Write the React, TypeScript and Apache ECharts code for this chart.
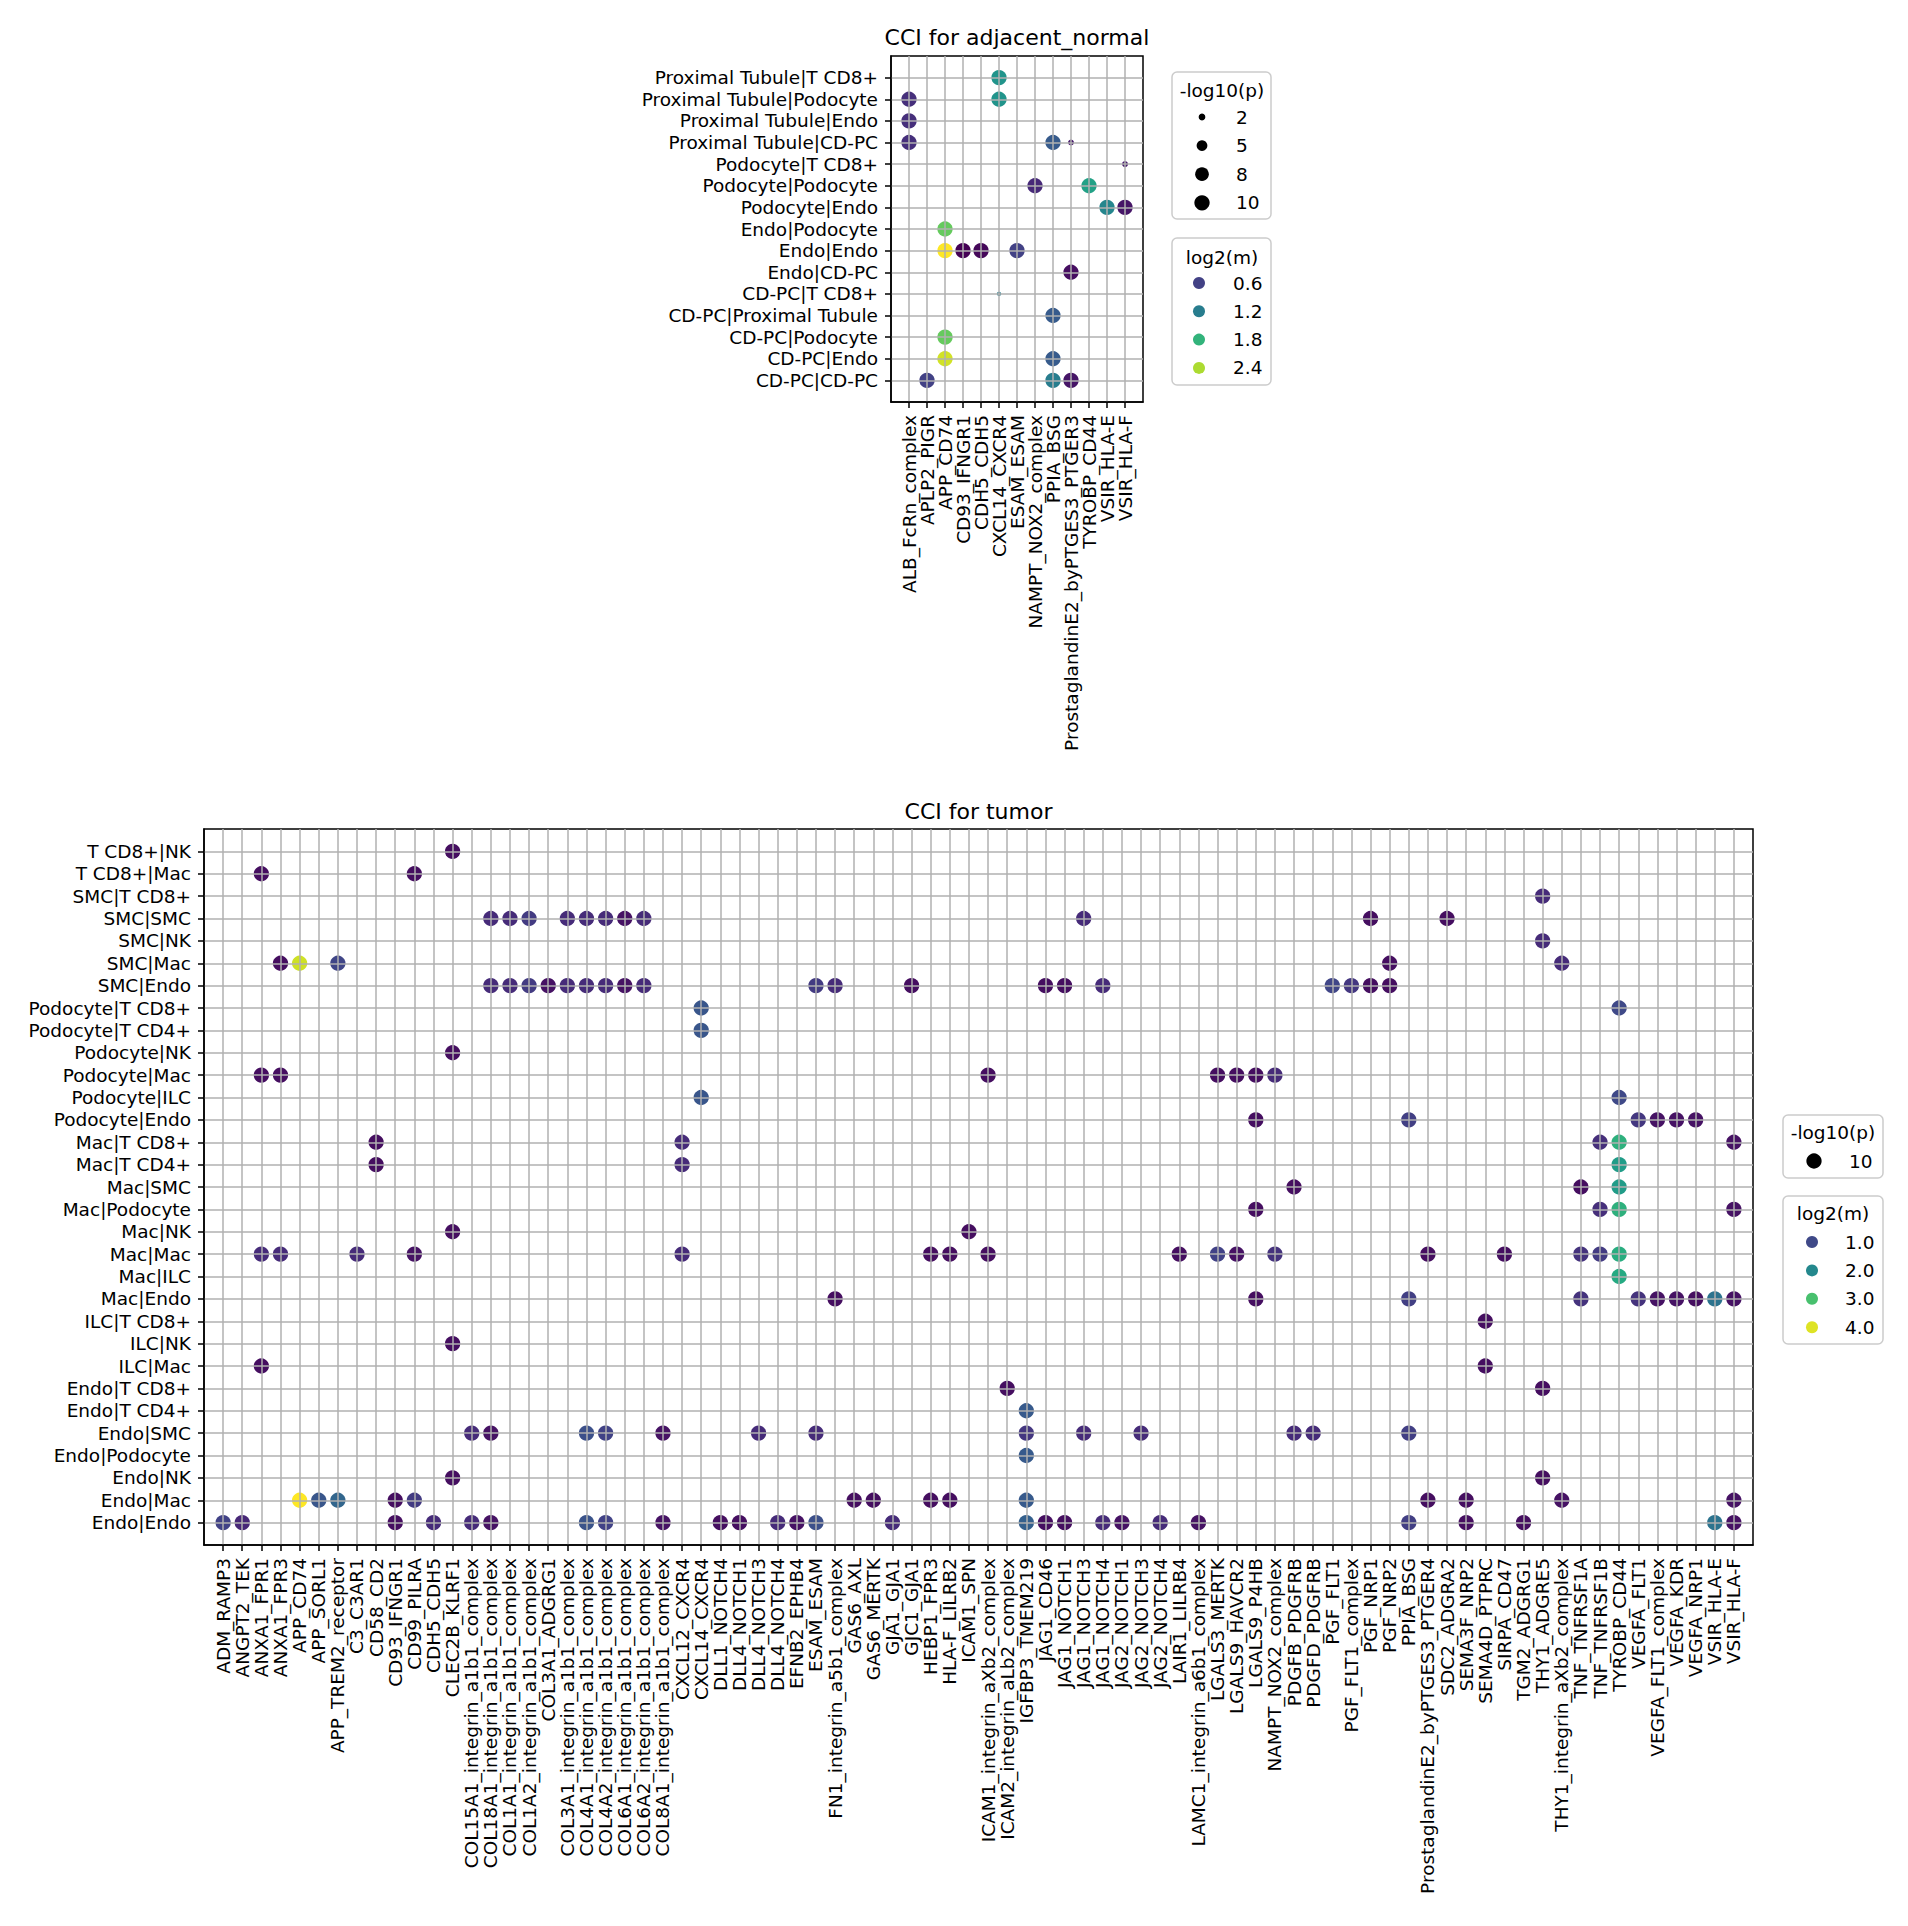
import React, { useEffect, useRef } from "react";
import * as echarts from "echarts";

const FONT = "DejaVu Sans";

// ---------- adjacent_normal ----------
const normalRows = [
  "Proximal Tubule|T CD8+",
  "Proximal Tubule|Podocyte",
  "Proximal Tubule|Endo",
  "Proximal Tubule|CD-PC",
  "Podocyte|T CD8+",
  "Podocyte|Podocyte",
  "Podocyte|Endo",
  "Endo|Podocyte",
  "Endo|Endo",
  "Endo|CD-PC",
  "CD-PC|T CD8+",
  "CD-PC|Proximal Tubule",
  "CD-PC|Podocyte",
  "CD-PC|Endo",
  "CD-PC|CD-PC",
];
const normalCols = [
  "ALB_FcRn_complex",
  "APLP2_PIGR",
  "APP_CD74",
  "CD93_IFNGR1",
  "CDH5_CDH5",
  "CXCL14_CXCR4",
  "ESAM_ESAM",
  "NAMPT_NOX2_complex",
  "PPIA_BSG",
  "ProstaglandinE2_byPTGES3_PTGER3",
  "TYROBP_CD44",
  "VSIR_HLA-E",
  "VSIR_HLA-F",
];
// [column index, row index, log2(m), -log10(p)]
const normalPoints: [number, number, number, number][] = [
  [5, 0, 1.45, 10],
  [0, 1, 0.45, 10], [5, 1, 1.45, 10],
  [0, 2, 0.45, 10],
  [0, 3, 0.45, 10], [8, 3, 0.85, 10], [9, 3, 0.3, 1.6],
  [12, 4, 0.3, 1.6],
  [7, 5, 0.4, 10], [10, 5, 1.6, 10],
  [11, 6, 1.3, 10], [12, 6, 0.25, 10],
  [2, 7, 2.1, 10],
  [2, 8, 2.73, 10], [3, 8, 0.1, 10], [4, 8, 0.15, 10], [6, 8, 0.6, 10],
  [9, 9, 0.2, 10],
  [5, 10, 1.2, 0.9],
  [8, 11, 0.85, 10],
  [2, 12, 2.1, 10],
  [2, 13, 2.55, 10], [8, 13, 0.85, 10],
  [1, 14, 0.6, 10], [8, 14, 1.2, 10], [9, 14, 0.25, 10],
];
const normalSizeLegend = [2, 5, 8, 10];
const normalColorLegend = [0.6, 1.2, 1.8, 2.4];
const normalColorRange = [0.1, 2.73];

// ---------- tumor ----------
const tumorRows = [
  "T CD8+|NK",
  "T CD8+|Mac",
  "SMC|T CD8+",
  "SMC|SMC",
  "SMC|NK",
  "SMC|Mac",
  "SMC|Endo",
  "Podocyte|T CD8+",
  "Podocyte|T CD4+",
  "Podocyte|NK",
  "Podocyte|Mac",
  "Podocyte|ILC",
  "Podocyte|Endo",
  "Mac|T CD8+",
  "Mac|T CD4+",
  "Mac|SMC",
  "Mac|Podocyte",
  "Mac|NK",
  "Mac|Mac",
  "Mac|ILC",
  "Mac|Endo",
  "ILC|T CD8+",
  "ILC|NK",
  "ILC|Mac",
  "Endo|T CD8+",
  "Endo|T CD4+",
  "Endo|SMC",
  "Endo|Podocyte",
  "Endo|NK",
  "Endo|Mac",
  "Endo|Endo",
];
const tumorCols = [
  "ADM_RAMP3",
  "ANGPT2_TEK",
  "ANXA1_FPR1",
  "ANXA1_FPR3",
  "APP_CD74",
  "APP_SORL1",
  "APP_TREM2_receptor",
  "C3_C3AR1",
  "CD58_CD2",
  "CD93_IFNGR1",
  "CD99_PILRA",
  "CDH5_CDH5",
  "CLEC2B_KLRF1",
  "COL15A1_integrin_a1b1_complex",
  "COL18A1_integrin_a1b1_complex",
  "COL1A1_integrin_a1b1_complex",
  "COL1A2_integrin_a1b1_complex",
  "COL3A1_ADGRG1",
  "COL3A1_integrin_a1b1_complex",
  "COL4A1_integrin_a1b1_complex",
  "COL4A2_integrin_a1b1_complex",
  "COL6A1_integrin_a1b1_complex",
  "COL6A2_integrin_a1b1_complex",
  "COL8A1_integrin_a1b1_complex",
  "CXCL12_CXCR4",
  "CXCL14_CXCR4",
  "DLL1_NOTCH4",
  "DLL4_NOTCH1",
  "DLL4_NOTCH3",
  "DLL4_NOTCH4",
  "EFNB2_EPHB4",
  "ESAM_ESAM",
  "FN1_integrin_a5b1_complex",
  "GAS6_AXL",
  "GAS6_MERTK",
  "GJA1_GJA1",
  "GJC1_GJA1",
  "HEBP1_FPR3",
  "HLA-F_LILRB2",
  "ICAM1_SPN",
  "ICAM1_integrin_aXb2_complex",
  "ICAM2_integrin_aLb2_complex",
  "IGFBP3_TMEM219",
  "JAG1_CD46",
  "JAG1_NOTCH1",
  "JAG1_NOTCH3",
  "JAG1_NOTCH4",
  "JAG2_NOTCH1",
  "JAG2_NOTCH3",
  "JAG2_NOTCH4",
  "LAIR1_LILRB4",
  "LAMC1_integrin_a6b1_complex",
  "LGALS3_MERTK",
  "LGALS9_HAVCR2",
  "LGALS9_P4HB",
  "NAMPT_NOX2_complex",
  "PDGFB_PDGFRB",
  "PDGFD_PDGFRB",
  "PGF_FLT1",
  "PGF_FLT1_complex",
  "PGF_NRP1",
  "PGF_NRP2",
  "PPIA_BSG",
  "ProstaglandinE2_byPTGES3_PTGER4",
  "SDC2_ADGRA2",
  "SEMA3F_NRP2",
  "SEMA4D_PTPRC",
  "SIRPA_CD47",
  "TGM2_ADGRG1",
  "THY1_ADGRE5",
  "THY1_integrin_aXb2_complex",
  "TNF_TNFRSF1A",
  "TNF_TNFRSF1B",
  "TYROBP_CD44",
  "VEGFA_FLT1",
  "VEGFA_FLT1_complex",
  "VEGFA_KDR",
  "VEGFA_NRP1",
  "VSIR_HLA-E",
  "VSIR_HLA-F",
];
// [column index, row index, log2(m), -log10(p)]
const tumorPoints: [number, number, number, number][] = [
  [12, 0, 0.25, 10],
  [2, 1, 0.25, 10], [10, 1, 0.25, 10],
  [69, 2, 0.6, 10],
  [14, 3, 0.6, 10], [15, 3, 0.6, 10], [16, 3, 0.8, 10], [18, 3, 0.6, 10], [19, 3, 0.6, 10],
  [20, 3, 0.6, 10], [21, 3, 0.3, 10], [22, 3, 0.6, 10], [45, 3, 0.6, 10], [60, 3, 0.25, 10],
  [64, 3, 0.25, 10],
  [69, 4, 0.6, 10],
  [3, 5, 0.25, 10], [4, 5, 3.9, 10], [6, 5, 0.95, 10], [61, 5, 0.25, 10], [70, 5, 0.6, 10],
  [14, 6, 0.6, 10], [15, 6, 0.6, 10], [16, 6, 0.8, 10], [17, 6, 0.3, 10], [18, 6, 0.6, 10],
  [19, 6, 0.6, 10], [20, 6, 0.6, 10], [21, 6, 0.3, 10], [22, 6, 0.6, 10], [31, 6, 0.8, 10],
  [32, 6, 0.6, 10], [36, 6, 0.25, 10], [43, 6, 0.25, 10], [44, 6, 0.25, 10], [46, 6, 0.6, 10],
  [58, 6, 0.95, 10], [59, 6, 0.75, 10], [60, 6, 0.25, 10], [61, 6, 0.25, 10],
  [25, 7, 1.2, 10], [73, 7, 1.0, 10],
  [25, 8, 1.2, 10],
  [12, 9, 0.25, 10],
  [2, 10, 0.25, 10], [3, 10, 0.25, 10], [40, 10, 0.25, 10], [52, 10, 0.25, 10],
  [53, 10, 0.25, 10], [54, 10, 0.25, 10], [55, 10, 0.6, 10],
  [25, 11, 1.2, 10], [73, 11, 1.0, 10],
  [54, 12, 0.25, 10], [62, 12, 0.85, 10], [74, 12, 0.75, 10], [75, 12, 0.3, 10],
  [76, 12, 0.3, 10], [77, 12, 0.3, 10],
  [8, 13, 0.25, 10], [24, 13, 0.6, 10], [72, 13, 0.65, 10], [73, 13, 2.7, 10], [79, 13, 0.3, 10],
  [8, 14, 0.25, 10], [24, 14, 0.6, 10], [73, 14, 2.35, 10],
  [56, 15, 0.25, 10], [71, 15, 0.25, 10], [73, 15, 2.35, 10],
  [54, 16, 0.25, 10], [72, 16, 0.65, 10], [73, 16, 2.7, 10], [79, 16, 0.3, 10],
  [12, 17, 0.25, 10], [39, 17, 0.25, 10],
  [2, 18, 0.6, 10], [3, 18, 0.6, 10], [7, 18, 0.6, 10], [10, 18, 0.3, 10], [24, 18, 0.6, 10],
  [37, 18, 0.25, 10], [38, 18, 0.25, 10], [40, 18, 0.25, 10], [50, 18, 0.25, 10],
  [52, 18, 0.9, 10], [53, 18, 0.3, 10], [55, 18, 0.7, 10], [63, 18, 0.25, 10],
  [67, 18, 0.25, 10], [71, 18, 0.7, 10], [72, 18, 0.8, 10], [73, 18, 2.65, 10],
  [73, 19, 2.6, 10],
  [32, 20, 0.25, 10], [54, 20, 0.25, 10], [62, 20, 0.85, 10], [71, 20, 0.7, 10],
  [74, 20, 0.7, 10], [75, 20, 0.3, 10], [76, 20, 0.3, 10], [77, 20, 0.25, 10],
  [78, 20, 1.65, 10], [79, 20, 0.3, 10],
  [66, 21, 0.25, 10],
  [12, 22, 0.25, 10],
  [2, 23, 0.25, 10], [66, 23, 0.25, 10],
  [41, 24, 0.25, 10], [69, 24, 0.25, 10],
  [42, 25, 1.25, 10],
  [13, 26, 0.6, 10], [14, 26, 0.3, 10], [19, 26, 1.1, 10], [20, 26, 0.9, 10], [23, 26, 0.3, 10],
  [28, 26, 0.6, 10], [31, 26, 0.6, 10], [42, 26, 0.75, 10], [45, 26, 0.6, 10],
  [48, 26, 0.6, 10], [56, 26, 0.6, 10], [57, 26, 0.6, 10], [62, 26, 0.85, 10],
  [42, 27, 1.25, 10],
  [12, 28, 0.25, 10], [69, 28, 0.25, 10],
  [4, 29, 4.2, 10], [5, 29, 1.2, 10], [6, 29, 1.45, 10], [9, 29, 0.25, 10], [10, 29, 0.8, 10],
  [33, 29, 0.25, 10], [34, 29, 0.25, 10], [37, 29, 0.25, 10], [38, 29, 0.25, 10],
  [42, 29, 1.25, 10], [63, 29, 0.25, 10], [65, 29, 0.25, 10], [70, 29, 0.3, 10],
  [79, 29, 0.3, 10],
  [0, 30, 0.9, 10], [1, 30, 0.55, 10], [9, 30, 0.25, 10], [11, 30, 0.6, 10], [13, 30, 0.6, 10],
  [14, 30, 0.3, 10], [19, 30, 1.15, 10], [20, 30, 0.9, 10], [23, 30, 0.3, 10],
  [26, 30, 0.25, 10], [27, 30, 0.25, 10], [29, 30, 0.6, 10], [30, 30, 0.3, 10],
  [31, 30, 1.1, 10], [35, 30, 0.6, 10], [42, 30, 1.35, 10], [43, 30, 0.25, 10],
  [44, 30, 0.25, 10], [46, 30, 0.6, 10], [47, 30, 0.3, 10], [49, 30, 0.6, 10],
  [51, 30, 0.3, 10], [62, 30, 0.85, 10], [65, 30, 0.25, 10], [68, 30, 0.25, 10],
  [78, 30, 1.65, 10], [79, 30, 0.3, 10],
];
const tumorSizeLegend = [10];
const tumorColorLegend = [1.0, 2.0, 3.0, 4.0];
const tumorColorRange = [0.1, 4.2];

const VIRIDIS = [
  "#440154", "#482475", "#414487", "#355f8d", "#2a788e", "#21918c",
  "#22a884", "#44bf70", "#7ad151", "#bddf26", "#fde725",
];

const PAD_START = "\u0000start";
const PAD_END = "\u0000end";

function hexToRgb(h: string) {
  const n = parseInt(h.slice(1), 16);
  return [(n >> 16) & 255, (n >> 8) & 255, n & 255];
}
function viridis(t: number) {
  const c = Math.max(0, Math.min(1, t)) * (VIRIDIS.length - 1);
  const i = Math.min(VIRIDIS.length - 2, Math.floor(c));
  const f = c - i;
  const a = hexToRgb(VIRIDIS[i]);
  const b = hexToRgb(VIRIDIS[i + 1]);
  const m = a.map((v, k) => Math.round(v + (b[k] - v) * f));
  return `rgb(${m[0]},${m[1]},${m[2]})`;
}
function sizeOf(p: number) {
  return Math.sqrt(Math.max(4, -2.2 + 23.6 * p));
}

// Category axis padded with one empty slot at each end (one full unit of margin, as in the reference)
function makeAxis(gridIndex: number, names: string[], isX: boolean) {
  const n = names.length;
  const inner = (i: number) => i > 0 && i < n + 1;
  return {
    type: "category",
    gridIndex,
    data: [PAD_START, ...names, PAD_END],
    boundaryGap: false,
    position: isX ? "bottom" : "left",
    inverse: !isX,
    z: 5,
    axisLine: { show: true, onZero: false, lineStyle: { color: "#000", width: 1.5 } },
    axisTick: { show: true, length: 6, inside: false, interval: inner, lineStyle: { color: "#000", width: 1.5 } },
    axisLabel: {
      show: true,
      interval: 0,
      rotate: isX ? 90 : 0,
      margin: 13,
      fontSize: 18.5,
      fontFamily: FONT,
      color: "#000",
      hideOverlap: false,
      formatter: (v: string) => (v === PAD_START || v === PAD_END ? "" : v),
    },
    splitLine: { show: true, interval: inner, lineStyle: { color: "#b0b0b0", width: 1.5 } },
  };
}

function txt(text: string, x: number, y: number, size: number, align: string) {
  return {
    type: "text",
    x,
    y,
    z: 20,
    style: {
      text,
      fontSize: size,
      fontFamily: FONT,
      fill: "#000",
      align,
      verticalAlign: "middle",
      textAlign: align,
      textVerticalAlign: "middle",
    },
  };
}
function box(x: number, y: number, w: number, h: number) {
  return {
    type: "rect",
    z: 19,
    shape: { x, y, width: w, height: h, r: 5 },
    style: { fill: "rgba(255,255,255,0.8)", stroke: "#cccccc", lineWidth: 1.5 },
  };
}
function dot(cx: number, cy: number, d: number, fill: string) {
  return { type: "circle", z: 20, shape: { cx, cy, r: d / 2 }, style: { fill } };
}

function buildGraphics() {
  const g: any[] = [];
  g.push(txt("CCI for adjacent_normal", 1017, 37, 22, "center"));
  g.push(txt("CCI for tumor", 978.5, 811, 22, "center"));

  // normal: size legend
  g.push(box(1172, 72, 99, 147));
  g.push(txt("-log10(p)", 1222, 90, 18.5, "center"));
  normalSizeLegend.forEach((v, i) => {
    const y = 117 + i * 28.6;
    g.push(dot(1202, y, sizeOf(v), "#000"));
    g.push(txt(String(v), 1236, y, 18.5, "left"));
  });
  // normal: colour legend
  g.push(box(1172, 238, 99, 147));
  g.push(txt("log2(m)", 1222, 257, 18.5, "center"));
  normalColorLegend.forEach((v, i) => {
    const y = 283 + i * 28.3;
    const t = (v - normalColorRange[0]) / (normalColorRange[1] - normalColorRange[0]);
    g.push(dot(1199, y, 12, viridis(t)));
    g.push(txt(v.toFixed(1), 1233, y, 18.5, "left"));
  });

  // tumor: size legend
  g.push(box(1783, 1115, 100, 63));
  g.push(txt("-log10(p)", 1833, 1132, 18.5, "center"));
  tumorSizeLegend.forEach((v, i) => {
    const y = 1161 + i * 28.5;
    g.push(dot(1814, y, sizeOf(v), "#000"));
    g.push(txt(String(v), 1849, y, 18.5, "left"));
  });
  // tumor: colour legend
  g.push(box(1783, 1196, 100, 148));
  g.push(txt("log2(m)", 1833, 1213, 18.5, "center"));
  tumorColorLegend.forEach((v, i) => {
    const y = 1242 + i * 28.4;
    const t = (v - tumorColorRange[0]) / (tumorColorRange[1] - tumorColorRange[0]);
    g.push(dot(1812, y, 12, viridis(t)));
    g.push(txt(v.toFixed(1), 1845, y, 18.5, "left"));
  });
  return g;
}

// shift indices by one for the padding slot on each category axis
const toAxisData = (pts: [number, number, number, number][]) =>
  pts.map(([c, r, m, p]) => [c + 1, r + 1, m, p]);

function buildOption() {
  return {
    animation: false,
    backgroundColor: "#ffffff",
    textStyle: { fontFamily: FONT },
    grid: [
      { left: 891, top: 56, width: 252, height: 346, show: true, borderColor: "#000", borderWidth: 1.5, backgroundColor: "transparent", containLabel: false, outerBoundsMode: "none" },
      { left: 204, top: 829, width: 1549, height: 716, show: true, borderColor: "#000", borderWidth: 1.5, backgroundColor: "transparent", containLabel: false, outerBoundsMode: "none" },
    ],
    xAxis: [makeAxis(0, normalCols, true), makeAxis(1, tumorCols, true)],
    yAxis: [makeAxis(0, normalRows, false), makeAxis(1, tumorRows, false)],
    visualMap: [
      { type: "continuous", show: false, seriesIndex: 0, dimension: 2, min: normalColorRange[0], max: normalColorRange[1], inRange: { color: VIRIDIS } },
      { type: "continuous", show: false, seriesIndex: 1, dimension: 2, min: tumorColorRange[0], max: tumorColorRange[1], inRange: { color: VIRIDIS } },
    ],
    series: [
      {
        name: "adjacent_normal",
        type: "scatter",
        xAxisIndex: 0,
        yAxisIndex: 0,
        z: 2,
        silent: true,
        symbol: "circle",
        encode: { x: 0, y: 1 },
        symbolSize: (val: number[]) => sizeOf(val[3]),
        itemStyle: { opacity: 1 },
        data: toAxisData(normalPoints),
      },
      {
        name: "tumor",
        type: "scatter",
        xAxisIndex: 1,
        yAxisIndex: 1,
        z: 2,
        silent: true,
        symbol: "circle",
        encode: { x: 0, y: 1 },
        symbolSize: (val: number[]) => sizeOf(val[3]),
        itemStyle: { opacity: 1 },
        data: toAxisData(tumorPoints),
      },
    ],
    graphic: buildGraphics(),
  };
}

export default function App() {
  const ref = useRef<HTMLDivElement>(null);
  useEffect(() => {
    if (!ref.current) return;
    const chart = echarts.init(ref.current, undefined, { renderer: "svg" });
    chart.setOption(buildOption() as any);
    return () => chart.dispose();
  }, []);
  return (
    <div
      ref={ref}
      style={{ position: "absolute", left: 0, top: 0, width: 1908, height: 1926, background: "#fff" }}
    />
  );
}
